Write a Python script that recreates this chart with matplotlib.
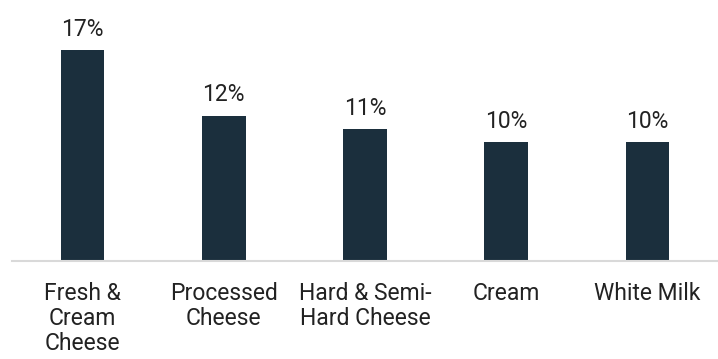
import matplotlib.pyplot as plt

plt.rcParams["font.family"] = ["Roboto", "DejaVu Sans"]

# data
categories = ["Fresh &\nCream\nCheese", "Processed\nCheese", "Hard & Semi-\nHard Cheese",
              "Cream", "White Milk"]
values = [17.4, 12.0, 10.9, 9.8, 9.8]
labels = ["17%", "12%", "11%", "10%", "10%"]

fig = plt.figure(figsize=(7.18, 3.59), dpi=100)
ax = fig.add_axes([12 / 718, 1 - 261 / 359, 706 / 718, 242 / 359])

x = range(len(values))
bars = ax.bar(x, values, width=0.31, color="#1b2f3d")
for b, lab in zip(bars, labels):
    ax.annotate(lab, (b.get_x() + b.get_width() / 2, b.get_height()),
                xytext=(0, 10.5), textcoords="offset points",
                ha="center", va="baseline", fontsize=16.5, color="#222222")

ax.set_xlim(-0.5, 4.5)
ax.set_ylim(0, 20)
ax.set_xticks(list(x))
ax.set_xticklabels(categories, fontsize=16.5, color="#222222", linespacing=1.12)
ax.tick_params(axis="x", length=0, pad=15)
ax.set_yticks([])
for s in ["top", "right", "left"]:
    ax.spines[s].set_visible(False)
ax.spines["bottom"].set_color("#d9d9d9")
ax.spines["bottom"].set_linewidth(1.5)

fig.savefig("out.png", dpi=100)
